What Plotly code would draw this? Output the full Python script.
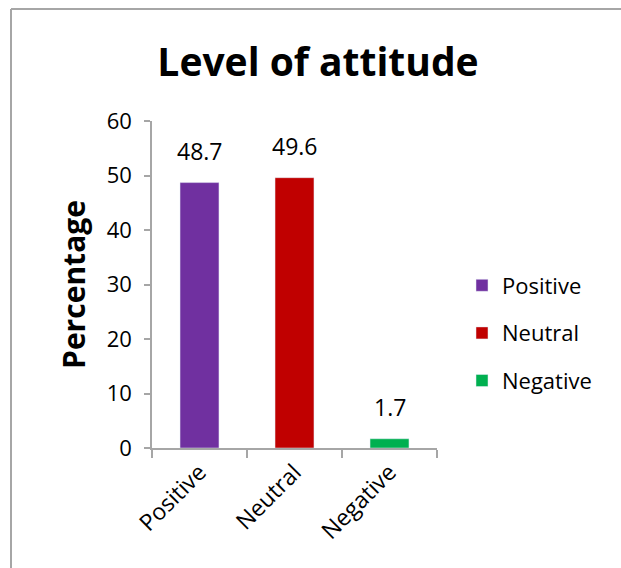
import plotly.graph_objects as go

categories = ["Positive", "Neutral", "Negative"]
values = [48.7, 49.6, 1.7]
colors = ["#7030A0", "#C00000", "#00B050"]
y_ticks = [0, 10, 20, 30, 40, 50, 60]

FONT = "Open Sans, Carlito, Calibri, sans-serif"

fig = go.Figure()
for i, (c, v, col) in enumerate(zip(categories, values, colors)):
    fig.add_trace(go.Bar(
        x=[c], y=[v], name=c, marker_color=col,
        width=0.41, legendgroup=c,
    ))
    fig.add_annotation(x=c, y=v, text=f"{v}", showarrow=False, yanchor="bottom",
                       yshift=14, font=dict(size=23, color="#000000", family=FONT))

W, H = 621, 568
L, R, T, B = 152, 437, 121, 448
fig.update_layout(
    width=W, height=H,
    margin=dict(l=L, r=W - R, t=T, b=H - B, pad=0),
    paper_bgcolor="white", plot_bgcolor="white",
    barmode="overlay",
    font=dict(family=FONT, color="#000000"),
    title=dict(text="<b>Level of attitude</b>", x=318 / W, xref="container", xanchor="center",
               y=1 - 62 / H, yref="container", yanchor="middle",
               font=dict(size=39, family=FONT, color="#000000")),
    legend=dict(x=(462 - L) / (R - L), xanchor="left", y=(B - 333) / (B - T), yanchor="middle",
                font=dict(size=22, family=FONT), tracegroupgap=16, bgcolor="rgba(0,0,0,0)"),
    xaxis=dict(type="category", categoryorder="array", categoryarray=categories,
               showline=True, linecolor="#A6A6A6", linewidth=1.5,
               ticks="outside", tickson="boundaries", ticklen=8, tickcolor="#A6A6A6", tickwidth=1.5,
               tickangle=-45, tickfont=dict(size=23, family=FONT), showgrid=False),
    yaxis=dict(range=[0, 60], tickvals=y_ticks, showline=True, linecolor="#A6A6A6", linewidth=1.5,
               ticks="outside", ticklen=6, tickcolor="#A6A6A6", tickwidth=1.5,
               ticklabelstandoff=8,
               tickfont=dict(size=22, family=FONT), showgrid=False, zeroline=False,
               title=dict(text="<b>Percentage</b>", font=dict(size=30, family=FONT), standoff=12)),
    showlegend=True,
)
fx0 = (11 - L) / (R - L)
fx1 = (W - L) / (R - L)
fy0 = (B - 9) / (B - T)
fy1 = (B - H) / (B - T)
fig.add_shape(type="line", xref="paper", yref="paper", x0=fx0, x1=fx1, y0=fy0, y1=fy0,
              line=dict(color="#A6A6A6", width=2), layer="below")
fig.add_shape(type="line", xref="paper", yref="paper", x0=fx0, x1=fx0, y0=fy0, y1=fy1,
              line=dict(color="#A6A6A6", width=2), layer="below")

fig.write_html("out.html", config={"displayModeBar": False},
               post_script="document.body.style.margin='0';document.body.style.overflow='hidden';")
